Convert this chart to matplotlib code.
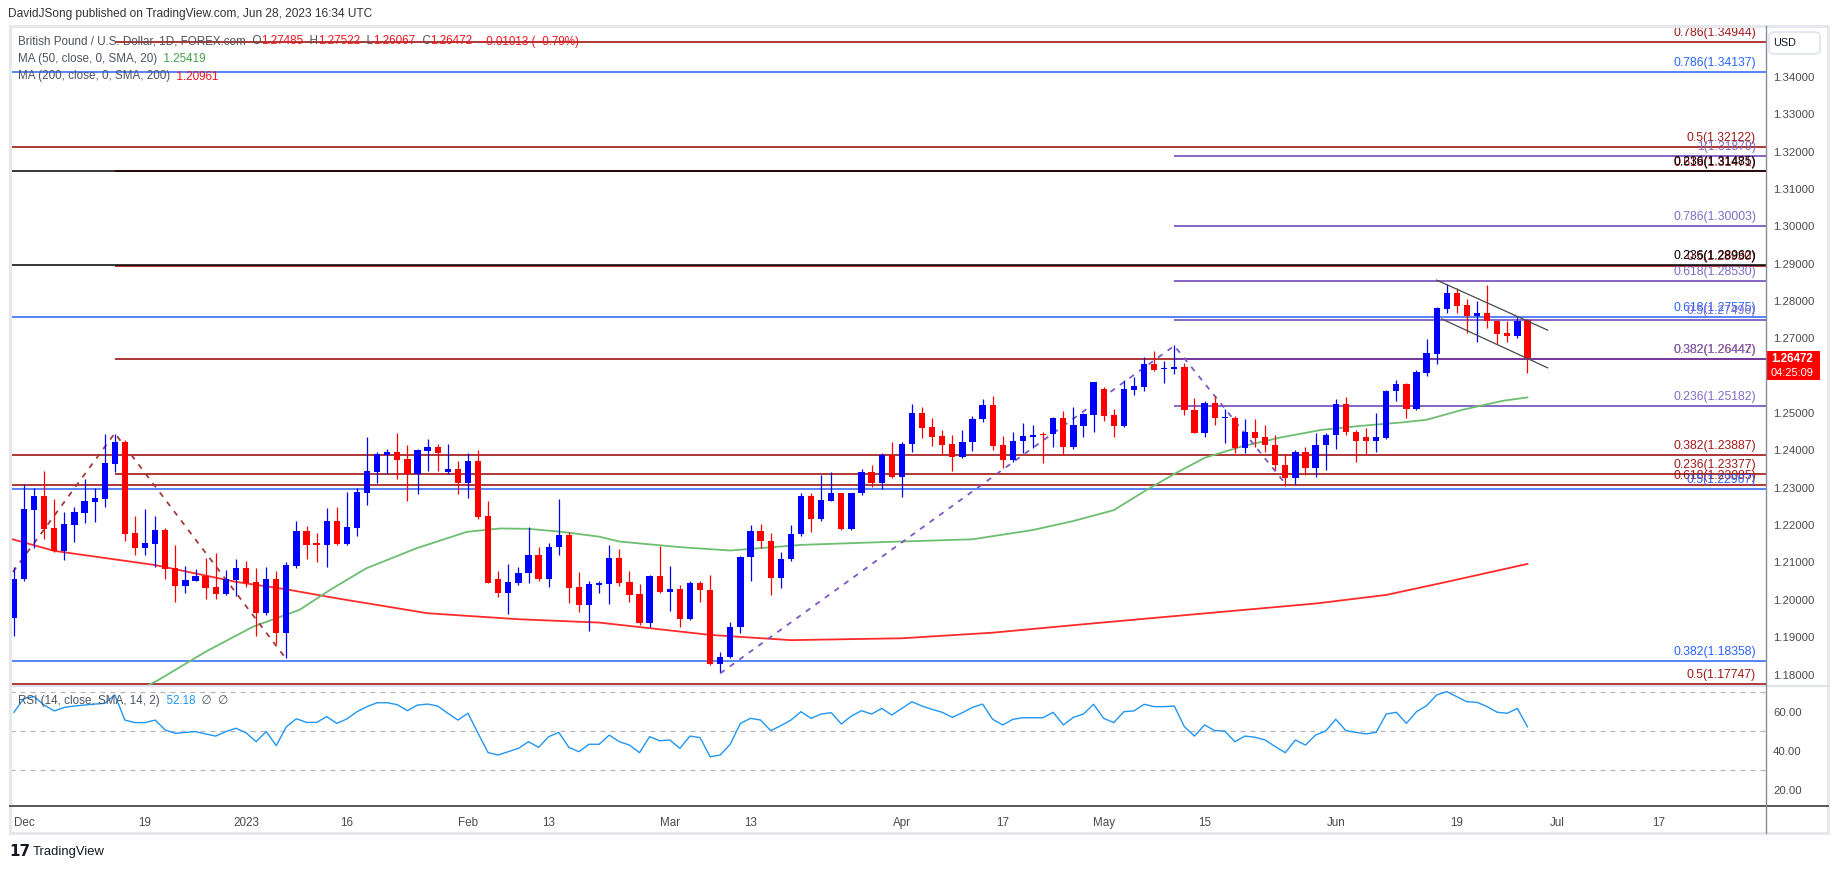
import numpy as np
import matplotlib
matplotlib.use("Agg")
import matplotlib.pyplot as plt
from matplotlib.patches import Rectangle, FancyBboxPatch
from matplotlib.lines import Line2D

plt.rcParams['font.family'] = ['Liberation Sans', 'DejaVu Sans']

# ------------------------------------------------------------------ data
first_bar = "2022-11-30"          # bars are business days starting here
axis_origin = "2022-12-01"        # bar position 0

opens = [
    1.1950, 1.2055, 1.2240, 1.2278, 1.2192, 1.2131, 1.2201, 1.2233, 1.2262, 1.2270,
    1.2364, 1.2422, 1.2179, 1.2139, 1.2150, 1.2187, 1.2085, 1.2038, 1.2051, 1.2063,
    1.2034, 1.2016, 1.2054, 1.2085, 1.2047, 1.1965, 1.2055, 1.1912, 1.2090, 1.2184,
    1.2150, 1.2147, 1.2211, 1.2150, 1.2193, 1.2286, 1.2342, 1.2388, 1.2395, 1.2377,
    1.2337, 1.2399, 1.2409, 1.2342, 1.2350, 1.2312, 1.2371, 1.2224, 1.2055, 1.2019,
    1.2046, 1.2071, 1.2120, 1.2055, 1.2141, 1.2173, 1.2034, 1.1987, 1.2040, 1.2042,
    1.2113, 1.2048, 1.2016, 1.1939, 1.2064, 1.2020, 1.2029, 1.1948, 1.2046, 1.2027,
    1.1829, 1.1847, 1.1926, 1.2114, 1.2185, 1.2158, 1.2058, 1.2109, 1.2176, 1.2278,
    1.2216, 1.2265, 1.2285, 1.2189, 1.2285, 1.2342, 1.2314, 1.2387, 1.2330, 1.2417,
    1.2499, 1.2463, 1.2439, 1.2417, 1.2381, 1.2422, 1.2484, 1.2521, 1.2415, 1.2375,
    1.2424, 1.2437, 1.2442, 1.2444, 1.2486, 1.2408, 1.2466, 1.2495, 1.2565, 1.2495,
    1.2464, 1.2562, 1.2569, 1.2631, 1.2617, 1.2619, 1.2623, 1.2507, 1.2446, 1.2526,
    1.2486, 1.2486, 1.2406, 1.2448, 1.2436, 1.2415, 1.2361, 1.2325, 1.2395, 1.2352,
    1.2415, 1.2442, 1.2525, 1.2448, 1.2435, 1.2424, 1.2434, 1.2558, 1.2578, 1.2510,
    1.2607, 1.2658, 1.2779, 1.2821, 1.2789, 1.2761, 1.2767, 1.2747, 1.2714, 1.2707,
    1.27485]
highs = [
    1.2087, 1.2310, 1.2298, 1.2345, 1.2270, 1.2234, 1.2248, 1.2323, 1.2299, 1.2443,
    1.2445, 1.2429, 1.2224, 1.2243, 1.2224, 1.2192, 1.2146, 1.2090, 1.2082, 1.2112,
    1.2125, 1.2080, 1.2109, 1.2104, 1.2085, 1.2087, 1.2077, 1.2101, 1.2211, 1.2197,
    1.2179, 1.2245, 1.2248, 1.2288, 1.2299, 1.2435, 1.2395, 1.2403, 1.2446, 1.2414,
    1.2403, 1.2430, 1.2417, 1.2417, 1.2371, 1.2393, 1.2401, 1.2264, 1.2077, 1.2096,
    1.2088, 1.2195, 1.2142, 1.2151, 1.2270, 1.2182, 1.2074, 1.2049, 1.2049, 1.2147,
    1.2136, 1.2076, 1.2043, 1.2067, 1.2144, 1.2091, 1.2040, 1.2051, 1.2051, 1.2067,
    1.1860, 1.1940, 1.2116, 1.2199, 1.2202, 1.2178, 1.2127, 1.2201, 1.2287, 1.2285,
    1.2334, 1.2342, 1.2287, 1.2287, 1.2350, 1.2361, 1.2392, 1.2422, 1.2422, 1.2524,
    1.2515, 1.2488, 1.2455, 1.2442, 1.2455, 1.2493, 1.2538, 1.2546, 1.2439, 1.2449,
    1.2473, 1.2468, 1.2448, 1.2489, 1.2506, 1.2515, 1.2501, 1.2584, 1.2569, 1.2511,
    1.2589, 1.2596, 1.2649, 1.2666, 1.2640, 1.2681, 1.2635, 1.2540, 1.2532, 1.2546,
    1.2510, 1.2492, 1.2483, 1.2484, 1.2468, 1.2440, 1.2390, 1.2400, 1.2410, 1.2446,
    1.2446, 1.2537, 1.2544, 1.2455, 1.2459, 1.2501, 1.2562, 1.2589, 1.2580, 1.2614,
    1.2698, 1.2785, 1.2845, 1.2834, 1.2805, 1.2800, 1.2843, 1.2749, 1.2747, 1.2756,
    1.27522]
lows = [
    1.1903, 1.2050, 1.2138, 1.2163, 1.2129, 1.2106, 1.2155, 1.2206, 1.2209, 1.2248,
    1.2343, 1.2158, 1.2120, 1.2120, 1.2087, 1.2055, 1.1995, 1.2019, 1.2049, 1.2003,
    1.2003, 1.2014, 1.2011, 1.2035, 1.1903, 1.1959, 1.1883, 1.1843, 1.2086, 1.2109,
    1.2102, 1.2088, 1.2148, 1.2146, 1.2171, 1.2253, 1.2313, 1.2336, 1.2323, 1.2265,
    1.2284, 1.2345, 1.2345, 1.2336, 1.2283, 1.2272, 1.2215, 1.2044, 1.2008, 1.1963,
    1.2040, 1.2044, 1.2050, 1.2033, 1.2120, 1.1991, 1.1968, 1.1917, 1.2017, 1.1988,
    1.2038, 1.1995, 1.1933, 1.1926, 1.2018, 1.1969, 1.1927, 1.1945, 1.1995, 1.1826,
    1.1808, 1.1845, 1.1911, 1.2049, 1.2138, 1.2012, 1.2031, 1.2105, 1.2170, 1.2181,
    1.2210, 1.2264, 1.2188, 1.2187, 1.2281, 1.2303, 1.2296, 1.2326, 1.2276, 1.2397,
    1.2434, 1.2413, 1.2388, 1.2346, 1.2380, 1.2399, 1.2477, 1.2400, 1.2354, 1.2368,
    1.2392, 1.2406, 1.2367, 1.2410, 1.2388, 1.2404, 1.2437, 1.2448, 1.2480, 1.2437,
    1.2463, 1.2549, 1.2560, 1.2613, 1.2580, 1.2605, 1.2495, 1.2446, 1.2437, 1.2467,
    1.2421, 1.2392, 1.2392, 1.2410, 1.2395, 1.2348, 1.2305, 1.2310, 1.2334, 1.2330,
    1.2348, 1.2403, 1.2442, 1.2370, 1.2391, 1.2397, 1.2430, 1.2533, 1.2488, 1.2508,
    1.2600, 1.2631, 1.2769, 1.2769, 1.2714, 1.2691, 1.2727, 1.2685, 1.2689, 1.2702,
    1.26067]
closes = [
    1.2057, 1.2243, 1.2278, 1.2190, 1.2131, 1.2203, 1.2234, 1.2264, 1.2272, 1.2366,
    1.2422, 1.2177, 1.2139, 1.2152, 1.2187, 1.2083, 1.2038, 1.2053, 1.2063, 1.2032,
    1.2016, 1.2055, 1.2085, 1.2046, 1.1965, 1.2055, 1.1912, 1.2092, 1.2184, 1.2147,
    1.2147, 1.2211, 1.2150, 1.2195, 1.2288, 1.2344, 1.2390, 1.2395, 1.2374, 1.2337,
    1.2401, 1.2409, 1.2393, 1.2350, 1.2312, 1.2371, 1.2221, 1.2046, 1.2019, 1.2047,
    1.2072, 1.2120, 1.2055, 1.2141, 1.2173, 1.2032, 1.1987, 1.2042, 1.2043, 1.2113,
    1.2046, 1.2014, 1.1939, 1.2064, 1.2020, 1.2029, 1.1948, 1.2046, 1.2025, 1.1829,
    1.1847, 1.1926, 1.2114, 1.2185, 1.2158, 1.2058, 1.2109, 1.2176, 1.2278, 1.2216,
    1.2267, 1.2285, 1.2189, 1.2285, 1.2342, 1.2314, 1.2387, 1.2330, 1.2417, 1.2499,
    1.2461, 1.2437, 1.2415, 1.2381, 1.2422, 1.2484, 1.2521, 1.2413, 1.2375, 1.2425,
    1.2439, 1.2441, 1.2440, 1.2486, 1.2408, 1.2468, 1.2498, 1.2582, 1.2493, 1.2464,
    1.2565, 1.2573, 1.2631, 1.2615, 1.2620, 1.2623, 1.2507, 1.2446, 1.2526, 1.2486,
    1.2488, 1.2406, 1.2448, 1.2434, 1.2415, 1.2361, 1.2325, 1.2395, 1.2352, 1.2415,
    1.2442, 1.2525, 1.2448, 1.2424, 1.2424, 1.2435, 1.2559, 1.2578, 1.2510, 1.2610,
    1.2660, 1.2782, 1.2821, 1.2787, 1.2761, 1.2767, 1.2747, 1.2712, 1.2707, 1.2747,
    1.26472]
rsi_values = [
    59.6, 66.8, 67.6, 63.3, 60.3, 62.1, 62.8, 63.3, 63.8, 64.2,
    68.5, 55.6, 54.3, 54.3, 55.6, 50.5, 48.8, 49.3, 49.7, 48.5,
    47.4, 49.7, 51.4, 49.1, 44.5, 49.7, 42.5, 52.2, 56.3, 54.4,
    54.4, 57.4, 53.9, 56.2, 59.9, 62.5, 64.5, 64.5, 63.5, 60.4,
    63.3, 63.8, 62.8, 59.1, 55.6, 59.1, 48.8, 38.9, 37.7, 39.4,
    41.1, 44.5, 41.6, 47.1, 49.3, 41.6, 39.4, 43.2, 43.2, 47.9,
    44.5, 42.8, 38.9, 47.1, 45.0, 45.4, 41.1, 47.4, 46.6, 36.8,
    37.7, 43.3, 53.9, 56.5, 55.6, 50.2, 52.7, 55.6, 59.9, 56.5,
    58.7, 59.4, 53.6, 57.7, 60.4, 58.7, 61.6, 58.2, 61.6, 65.0,
    62.8, 61.1, 59.6, 57.0, 59.4, 62.1, 63.8, 56.0, 53.1, 56.0,
    56.8, 56.8, 56.8, 59.6, 53.1, 57.0, 58.7, 63.7, 56.5, 54.3,
    59.9, 60.3, 63.7, 62.5, 62.5, 62.8, 52.2, 47.4, 53.1, 50.2,
    50.0, 44.5, 47.4, 46.8, 45.4, 42.0, 38.9, 45.4, 42.8, 47.9,
    50.0, 56.0, 50.2, 49.3, 48.5, 49.3, 58.7, 59.6, 53.9, 59.9,
    63.0, 68.5, 70.2, 67.6, 65.0, 64.7, 62.5, 59.6, 59.1, 61.6,
    52.18]

# moving averages at bar positions
ma50_pos = [11, 13.3, 18, 22.7, 27.3, 30.3, 33.9, 38.9, 43.9, 47.2, 50, 53.3, 57, 59,
            65, 70, 77, 84.5, 94, 100, 104, 108, 111, 114, 117, 120.6, 124.6, 128.6,
            132.6, 136.6, 139, 142.6, 146.6, 149]
ma50_val = [1.1752, 1.1785, 1.1861, 1.1928, 1.1973, 1.2026, 1.2084, 1.2138, 1.2182,
            1.2191, 1.2190, 1.2182, 1.2169, 1.2156, 1.2141, 1.2132, 1.2147, 1.2154,
            1.2162, 1.2187, 1.2211, 1.2240, 1.2290, 1.2337, 1.2380, 1.2410, 1.2435,
            1.2455, 1.2466, 1.2475, 1.2482, 1.2509, 1.2533, 1.25419]
ma200_pos = [-1.4, 3, 13, 21, 26, 31, 40, 49, 57, 68, 76, 87, 96, 106, 118, 128, 135,
             141, 149]
ma200_val = [1.2164, 1.2131, 1.2093, 1.2048, 1.2028, 1.2004, 1.1964, 1.1948, 1.1939,
             1.1906, 1.1892, 1.1897, 1.1912, 1.1937, 1.1966, 1.1990, 1.2013, 1.2048,
             1.20961]

# fibonacci levels: price, ratio, colour key, start date (None = whole chart)
fib_price = [1.34944, 1.34137, 1.32122, 1.31879, 1.31471, 1.31485, 1.30003, 1.28930,
             1.28962, 1.28530, 1.27575, 1.27496, 1.26447, 1.26442, 1.25182, 1.23887,
             1.23377, 1.23085, 1.22967, 1.18358, 1.17747]
fib_ratio = ["0.786", "0.786", "0.5", "1", "0.618", "0.236", "0.786", "0.5", "0.236",
             "0.618", "0.618", "0.5", "0.382", "0.382", "0.236", "0.382", "0.236",
             "0.618", "0.5", "0.382", "0.5"]
fib_key = ["r", "b", "r", "p", "r", "k", "p", "r", "k", "p", "b", "p", "r", "p", "p",
           "r", "r", "r", "b", "b", "r"]
fib_start = ["2022-12-14", None, None, "2023-05-10", "2022-12-14", None, "2023-05-10",
             "2022-12-14", None, "2023-05-10", None, "2023-05-10", "2022-12-14",
             "2023-05-10", "2023-05-10", None, "2022-12-14", None, None, None, None]

# dashed swing lines (anchor dates / prices)
swing_red_dates = ["2022-09-26", "2022-12-14", "2023-01-06"]
swing_red_price = [1.0350, 1.2446, 1.1841]
swing_purple_dates = ["2023-03-08", "2023-05-10", "2023-05-25"]
swing_purple_price = [1.1803, 1.2680, 1.2311]

# falling channel (bar positions / prices)
chan_up_pos, chan_up_val = [140.0, 151.0], [1.2856, 1.2722]
chan_lo_pos, chan_lo_val = [140.5, 151.0], [1.2752, 1.2621]

tick_dates = ["2022-12-01", "2022-12-19", "2023-01-02", "2023-01-16", "2023-02-01",
              "2023-02-13", "2023-03-01", "2023-03-13", "2023-04-03", "2023-04-17",
              "2023-05-01", "2023-05-15", "2023-06-01", "2023-06-19", "2023-07-03",
              "2023-07-17"]
tick_labels = ["Dec", "19", "2023", "16", "Feb", "13", "Mar", "13", "Apr", "17", "May",
               "15", "Jun", "19", "Jul", "17"]
price_ticks = [1.18, 1.19, 1.20, 1.21, 1.22, 1.23, 1.24, 1.25, 1.26, 1.27, 1.28, 1.29,
               1.30, 1.31, 1.32, 1.33, 1.34]
rsi_ticks = [20, 40, 60]
rsi_levels = [70, 50, 30]

# ------------------------------------------------------------------ helpers
W, H = 1835, 869
def pos(d):
    return float(np.busday_count(axis_origin, d))

fig = plt.figure(figsize=(W / 100, H / 100), dpi=100)
fig.patch.set_facecolor("white")
LEFT, RIGHT = 10, 1766

def rect(top, bottom):
    return [LEFT / W, 1 - bottom / H, (RIGHT - LEFT) / W, (bottom - top) / H]

ax = fig.add_axes(rect(26, 685))
axr = fig.add_axes(rect(686, 806))
XL = (-1.3875, 172.64)
for a in (ax, axr):
    a.set_xlim(*XL)
    for s in a.spines.values():
        s.set_visible(False)
    a.set_facecolor("none")
ax.set_ylim(1.177189, 1.353628)
axr.set_ylim(11.54, 73.08)

# ------------------------------------------------------------------ fib lines
line_col = {"r": "#990000", "b": "#2962FF", "p": "#673AB7", "k": "#000000"}
text_col = {"r": "#A01818", "b": "#2962FF", "p": "#7E6CC8", "k": "#000000"}
zline = {"r": 2.0, "b": 2.1, "p": 2.2, "k": 2.3}
label_x = 171.65
for p, r, k, s in zip(fib_price, fib_ratio, fib_key, fib_start):
    x0 = XL[0] if s is None else pos(s)
    ax.hlines(p, x0, XL[1], color=line_col[k], lw=1.1, zorder=zline[k])
    ax.annotate(f"{r}({p:.5f})", (label_x, p), xytext=(0, 2.0),
                textcoords="offset points", ha="right", va="bottom",
                color=text_col[k], fontsize=8.7, zorder=3)

# ------------------------------------------------------------------ moving averages
ax.plot(ma200_pos, ma200_val, color="#FF2A2A", lw=1.3, zorder=3)
ax.plot(ma50_pos, ma50_val, color="#6DBE70", lw=1.3, zorder=3)

# ------------------------------------------------------------------ dashed swings
ax.plot([pos(d) for d in swing_red_dates], swing_red_price, color="#A33A3A",
        lw=1.3, ls=(0, (3, 3.5)), zorder=3)
ax.plot([pos(d) for d in swing_purple_dates], swing_purple_price, color="#7E57C2",
        lw=1.3, ls=(0, (3, 3.5)), zorder=3)

# ------------------------------------------------------------------ candles
o = np.array(opens); c = np.array(closes)
h = np.array(highs); l = np.array(lows)
xs = np.arange(len(opens)) + pos(first_bar)
cols = np.where(c >= o, "#0000FF", "#FF0000")
ax.vlines(xs, l, h, colors=cols, lw=0.9, zorder=4)
ax.bar(xs, np.maximum(np.abs(c - o), 0.0004), bottom=np.minimum(o, c), width=0.62,
       color=cols, lw=0, zorder=5)

# channel
ax.plot(chan_up_pos, chan_up_val, color="#4A4A4A", lw=0.9, zorder=6)
ax.plot(chan_lo_pos, chan_lo_val, color="#4A4A4A", lw=0.9, zorder=6)

# ------------------------------------------------------------------ axes ticks
ax.yaxis.tick_right()
ax.set_yticks(price_ticks)
ax.set_yticklabels([f"{t:.5f}" for t in price_ticks])
ax.tick_params(axis="y", length=0, pad=5, labelsize=8.2, labelcolor="#4A4A4A")
ax.tick_params(axis="x", bottom=False, labelbottom=False)

# ------------------------------------------------------------------ RSI
for lv in rsi_levels:
    axr.axhline(lv, color="#B2B5BE", lw=0.9, ls=(0, (4, 4)), zorder=1)
axr.plot(xs, rsi_values, color="#2196F3", lw=1.0, zorder=3)
axr.yaxis.tick_right()
axr.set_yticks(rsi_ticks)
axr.set_yticklabels([f"{t:.2f}" for t in rsi_ticks])
axr.tick_params(axis="y", length=0, pad=5, labelsize=8.2, labelcolor="#4A4A4A")
axr.set_xticks([pos(d) for d in tick_dates])
axr.set_xticklabels(tick_labels)
axr.tick_params(axis="x", length=0, pad=8, labelsize=8.4, labelcolor="#4A4A4A")

# ------------------------------------------------------------------ frame lines
def fline(x0, y0, x1, y1, **kw):
    fig.add_artist(Line2D([x0 / W, x1 / W], [1 - y0 / H, 1 - y1 / H], **kw))

fig.add_artist(Rectangle((LEFT / W, 1 - 833 / H), (1828 - LEFT) / W, (833 - 26) / H,
                         fill=False, edgecolor="#E6E8EE", lw=2.2))
fline(LEFT, 685.5, 1828, 685.5, color="#E0E3EB", lw=1.5)
fline(LEFT, 806, 1828, 806, color="#4A4A4A", lw=1.3)
fline(RIGHT, 26, RIGHT, 833, color="#8A8D96", lw=1.0)

# USD box
fig.add_artist(FancyBboxPatch((1769 / W, 1 - 54 / H), 51 / W, 22 / H,
                              boxstyle="round,pad=0,rounding_size=0.004",
                              facecolor="white", edgecolor="#E0E3EB", lw=1.2))
fig.text(1773 / W, 1 - 43 / H, "USD", fontsize=7.8, color="#131722", va="center")

# last price box
fig.add_artist(Rectangle((RIGHT / W, 1 - 380 / H), 54 / W, 29 / H,
                         facecolor="#FF0000", edgecolor="none"))
fig.text(1771 / W, 1 - 359 / H, "1.26472", fontsize=8.3, color="white",
         fontweight="bold", va="center")
fig.text(1771 / W, 1 - 373 / H, "04:25:09", fontsize=8.0, color="white", va="center")

# ------------------------------------------------------------------ texts
renderer = fig.canvas.get_renderer()

def pieces(x, y, parts, size=8.4):
    for s, col in parts:
        t = fig.text(x / W, 1 - y / H, s, color=col, fontsize=size, va="center",
                     ha="left")
        x += t.get_window_extent(renderer=renderer).width

GRAY = "#50535E"
RED = "#F0141E"
fig.text(8 / W, 1 - 14 / H,
         "DavidJSong published on TradingView.com, Jun 28, 2023 16:34 UTC",
         fontsize=8.6, color="#333333", va="center")
pieces(18, 41.5, [("British Pound / U.S. Dollar, 1D, FOREX.com", GRAY), ("  O", GRAY),
                  ("1.27485", RED), ("  H", GRAY), ("1.27522", RED), ("  L", GRAY),
                  ("1.26067", RED), ("  C", GRAY), ("1.26472", RED),
                  ("  \u22120.01013 (\u22120.79%)", RED)])
pieces(18, 59, [("MA (50, close, 0, SMA, 20)", GRAY), ("  1.25419", "#43A047")])
pieces(18, 76.5, [("MA (200, close, 0, SMA, 200)", GRAY), ("  1.20961", RED)])
pieces(18, 701, [("RSI (14, close, SMA, 14, 2)", GRAY), ("  52.18", "#2196F3"),
                 ("  \u2205  \u2205", GRAY)])

# logo
fig.text(9 / W, 1 - 852 / H, "17", fontsize=11, fontweight="bold", color="#131722",
         va="center", family=["DejaVu Sans"])
fig.text(33 / W, 1 - 852 / H, "TradingView", fontsize=9.4, color="#131722",
         va="center")

fig.savefig("out.png", dpi=100)
